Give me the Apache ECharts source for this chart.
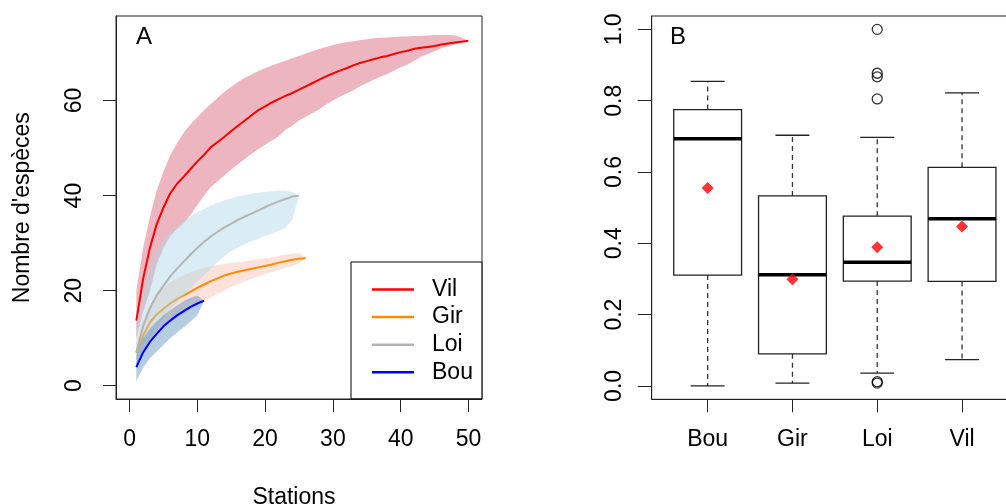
<!DOCTYPE html>
<html><head><meta charset="utf-8">
<script src="https://cdn.jsdelivr.net/npm/echarts@6/dist/echarts.min.js"></script>
<style>html,body{margin:0;padding:0;background:#fff}#c{width:1006px;height:504px}</style>
</head><body><div id="c"></div>
<script>
// ---------- Panel A : rarefaction curves (stations 1..n) ----------
const vilMean  = [13.7,22.5,29,34,37.5,40.5,42.5,44,45.6,47.2,48.6,50.2,51.3,52.4,53.6,54.7,55.8,56.9,58,58.8,59.6,60.3,61,61.6,62.3,63,63.7,64.4,65.1,65.7,66.3,66.8,67.4,67.9,68.3,68.7,69.1,69.4,69.8,70.2,70.5,70.9,71.1,71.3,71.5,71.8,72,72.2,72.4,72.6];
const vilUpper = [20,29,35.5,41,45,48.5,51,53.3,55,56.5,58,59.3,60.6,61.8,62.9,63.9,64.8,65.5,66.2,66.8,67.4,67.9,68.4,68.9,69.4,69.9,70.4,70.9,71.3,71.7,72,72.3,72.5,72.7,72.9,73.1,73.2,73.3,73.4,73.5,73.5,73.6,73.6,73.7,73.8,73.8,73.8,73.7,73.3,72.6];
const vilLower = [10,15.5,20,25.5,29,31.5,33,34.2,36,38,40,41.8,43,44.3,45.5,46.6,47.7,48.8,49.8,50.7,51.6,52.5,53.8,54.7,55.8,56.6,57.4,58.2,59.2,60,60.8,61.5,62.2,63,63.7,64.4,65,65.6,66.3,67,67.6,68.4,69.2,69.8,70.4,71,71.4,71.8,72.2,72.6];

const girMean  = [6.9,10.5,13.3,15,16.2,17.3,18.2,19,19.8,20.6,21.3,22,22.6,23.2,23.6,24,24.3,24.6,24.9,25.2,25.5,25.9,26.2,26.5,26.7,26.8];
const girUpper = [9,14,17,19,20.5,21.8,22.6,23.3,23.9,24.4,24.8,25.1,25.4,25.6,25.8,26,26.2,26.4,26.6,26.8,27,27.3,27.6,27.8,27.9,26.8];
const girLower = [4,7,9,11,12.3,13.3,14.3,15.2,16.1,17,17.8,18.6,19.4,20.1,20.8,21.4,22,22.5,23,23.5,24,24.4,24.8,25.2,25.7,26.8];

const loiMean  = [7,12.5,16.3,19,21,23,24.6,26.1,27.6,29,30.3,31.4,32.4,33.3,34.1,34.9,35.6,36.2,36.9,37.6,38.2,38.8,39.3,39.8,40];
const loiUpper = [12,20,25,28.5,30.8,32.3,33.5,34.6,35.6,36.5,37.2,37.9,38.5,39,39.4,39.8,40.1,40.4,40.6,40.8,40.9,41,41,40.7,40];
const loiLower = [3.5,7,10,12.3,14.3,16,17.5,19,20.5,22,23.3,24.6,26,27.3,28.3,29.1,29.8,30.4,31,31.5,32,32.6,33.2,35,40];

const bouMean  = [3.9,7,9.2,10.9,12.5,13.7,14.8,15.7,16.6,17.3,17.9];
const bouUpper = [6.5,10,12,13.5,14.8,15.9,16.9,17.8,18.5,19,17.9];
const bouLower = [1,3.8,5.8,7.2,8.6,10,11.2,12.3,13.5,14.8,17.9];

const xTicksA = [0,10,20,30,40,50];
const yTicksA = [0,20,40,60];
const legendOrder = ['Vil','Gir','Loi','Bou'];

// ---------- Panel B : boxplots ----------
const groups   = ['Bou','Gir','Loi','Vil'];
const whiskLo  = [0.0, 0.008, 0.036, 0.074];
const q1       = [0.311, 0.090, 0.294, 0.293];
const medians  = [0.693, 0.312, 0.347, 0.469];
const q3       = [0.775, 0.533, 0.476, 0.613];
const whiskHi  = [0.854, 0.703, 0.697, 0.822];
const means    = [0.555, 0.299, 0.389, 0.447];
const outlierGroup = ['Loi','Loi','Loi','Loi','Loi','Loi'];
const outlierValue = [1.0, 0.877, 0.867, 0.805, 0.012, 0.008];
const yTicksB = [0, 0.2, 0.4, 0.6, 0.8, 1.0];

const FONT = '"Liberation Sans", Arial, sans-serif';
const AX = '#222';

function pairs(arr){ return arr.map((v,i)=>[i+1, v]); }

function band(lower, upper, fill, z){
  return {
    type:'custom', xAxisIndex:0, yAxisIndex:0, silent:true, z:z,
    data:[[0,0]],
    renderItem:function(params, api){
      const pts=[];
      for(let i=0;i<upper.length;i++) pts.push(api.coord([i+1, upper[i]]));
      for(let i=lower.length-1;i>=0;i--) pts.push(api.coord([i+1, lower[i]]));
      return {type:'polygon', shape:{points:pts}, style:{fill:fill, stroke:null}};
    }
  };
}
function line(name, arr, color, z){
  return {type:'line', name:name, xAxisIndex:0, yAxisIndex:0, data:pairs(arr), symbol:'none', showSymbol:false,
    color:color, itemStyle:{color:color}, lineStyle:{color:color, width:2}, z:z, silent:true, animation:false};
}

const boxData = groups.map((g,i)=>[i+1, whiskLo[i], q1[i], medians[i], q3[i], whiskHi[i]]);

const option = {
  animation:false,
  backgroundColor:'#fff',
  grid:[
    {left:116, top:16, width:366, height:383, show:true, borderColor:AX, borderWidth:1, backgroundColor:'transparent', containLabel:false, outerBoundsMode:'none'},
    {left:651.7, top:16, width:366.3, height:383.3, show:true, borderColor:AX, borderWidth:1, backgroundColor:'transparent', containLabel:false, outerBoundsMode:'none'}
  ],
  xAxis:[
    {gridIndex:0, type:'value', min:-2, max:52,
     name:'Stations', nameLocation:'middle', nameGap:87,
     nameTextStyle:{fontSize:23, fontFamily:FONT, color:'#000', padding:[0,10,0,0]},
     axisLine:{show:true, onZero:false, lineStyle:{color:AX}},
     axisTick:{show:true, customValues:xTicksA, length:13, lineStyle:{color:AX}},
     axisLabel:{customValues:xTicksA, fontSize:23, fontFamily:FONT, color:'#000', margin:29},
     splitLine:{show:false}},
    {gridIndex:1, type:'value', min:0.34, max:4.66,
     axisLine:{show:true, onZero:false, lineStyle:{color:AX}},
     axisTick:{show:true, customValues:[1,2,3,4], length:13, lineStyle:{color:AX}},
     axisLabel:{customValues:[1,2,3,4], formatter:v=>groups[Math.round(v)-1], fontSize:23, fontFamily:FONT, color:'#000', margin:29},
     splitLine:{show:false}}
  ],
  yAxis:[
    {gridIndex:0, type:'value', min:-2.8, max:77.8,
     axisLine:{show:true, onZero:false, lineStyle:{color:AX}},
     axisTick:{show:true, customValues:yTicksA, length:13, lineStyle:{color:AX}},
     axisLabel:{customValues:yTicksA, rotate:90, fontSize:23, fontFamily:FONT, color:'#000', margin:30},
     splitLine:{show:false}},
    {gridIndex:1, type:'value', min:-0.0375, max:1.0375,
     axisLine:{show:true, onZero:false, lineStyle:{color:AX}},
     axisTick:{show:true, customValues:yTicksB, length:14, lineStyle:{color:AX}},
     axisLabel:{customValues:yTicksB, formatter:v=>v.toFixed(1), rotate:90, fontSize:23, fontFamily:FONT, color:'#000', margin:26},
     splitLine:{show:false}}
  ],
  legend:{
    data:legendOrder, orient:'vertical', left:351, top:262,
    icon:'rect', itemWidth:42, itemHeight:2.5, itemGap:4.6, padding:[16,9,15,21],
    borderColor:'#000', borderWidth:1, backgroundColor:'#fff', selectedMode:false,
    textStyle:{fontSize:23, fontFamily:FONT, color:'#000', padding:[0,0,0,13]}
  },
  graphic:[
    {type:'text', x:144, y:37, style:{text:'A', font:'24px '+FONT, fill:'#000', align:'center', verticalAlign:'middle'}},
    {type:'text', x:678, y:37, style:{text:'B', font:'24px '+FONT, fill:'#000', align:'center', verticalAlign:'middle'}},
    {type:'text', x:22.5, y:207.7, rotation:Math.PI/2, style:{text:"Nombre d'espèces", font:'23px '+FONT, fill:'#000', align:'center', verticalAlign:'middle'}}
  ],
  series:[
    band(vilLower, vilUpper, 'rgba(204,44,72,0.35)', 1),
    line('Vil', vilMean, '#FF0000', 2),
    band(girLower, girUpper, 'rgba(243,139,107,0.25)', 3),
    line('Gir', girMean, '#FF8C00', 4),
    band(loiLower, loiUpper, 'rgba(173,216,230,0.45)', 5),
    line('Loi', loiMean, '#B4B4B4', 6),
    band(bouLower, bouUpper, 'rgba(70,130,180,0.4)', 7),
    line('Bou', bouMean, '#0000FF', 8),
    {
      type:'custom', xAxisIndex:1, yAxisIndex:1, silent:true, z:3,
      data:boxData,
      renderItem:function(params, api){
        const pos=api.value(0);
        const cx=api.coord([pos, 0])[0];
        const hw=api.size([0.4,0])[0];
        const cw=api.size([0.2,0])[0];
        const yLo=api.coord([pos, api.value(1)])[1];
        const yQ1=api.coord([pos, api.value(2)])[1];
        const yMed=api.coord([pos, api.value(3)])[1];
        const yQ3=api.coord([pos, api.value(4)])[1];
        const yHi=api.coord([pos, api.value(5)])[1];
        const s={stroke:'#222', lineWidth:1.3};
        return {type:'group', children:[
          {type:'line', shape:{x1:cx,y1:yQ3,x2:cx,y2:yHi}, style:{stroke:'#333', lineWidth:1.3, lineDash:[5,4]}},
          {type:'line', shape:{x1:cx,y1:yQ1,x2:cx,y2:yLo}, style:{stroke:'#333', lineWidth:1.3, lineDash:[5,4]}},
          {type:'line', shape:{x1:cx-cw,y1:yHi,x2:cx+cw,y2:yHi}, style:s},
          {type:'line', shape:{x1:cx-cw,y1:yLo,x2:cx+cw,y2:yLo}, style:s},
          {type:'rect', shape:{x:cx-hw, y:yQ3, width:2*hw, height:yQ1-yQ3}, style:{fill:'#fff', stroke:'#222', lineWidth:1.3}},
          {type:'line', shape:{x1:cx-hw,y1:yMed,x2:cx+hw,y2:yMed}, style:{stroke:'#000', lineWidth:3.5}}
        ]};
      }
    },
    {type:'scatter', xAxisIndex:1, yAxisIndex:1, silent:true, z:5,
     data:outlierGroup.map((g,i)=>[groups.indexOf(g)+1, outlierValue[i]]),
     symbol:'circle', symbolSize:10,
     itemStyle:{color:'rgba(0,0,0,0)', borderColor:'#000', borderWidth:1.3}},
    {type:'scatter', xAxisIndex:1, yAxisIndex:1, silent:true, z:6,
     data:means.map((m,i)=>[i+1, m]),
     symbol:'diamond', symbolSize:[12,12], itemStyle:{color:'#FF0000'}}
  ]
};
const chart = echarts.init(document.getElementById('c'), null, {renderer:'canvas'});
chart.setOption(option);
</script>
</body></html>
